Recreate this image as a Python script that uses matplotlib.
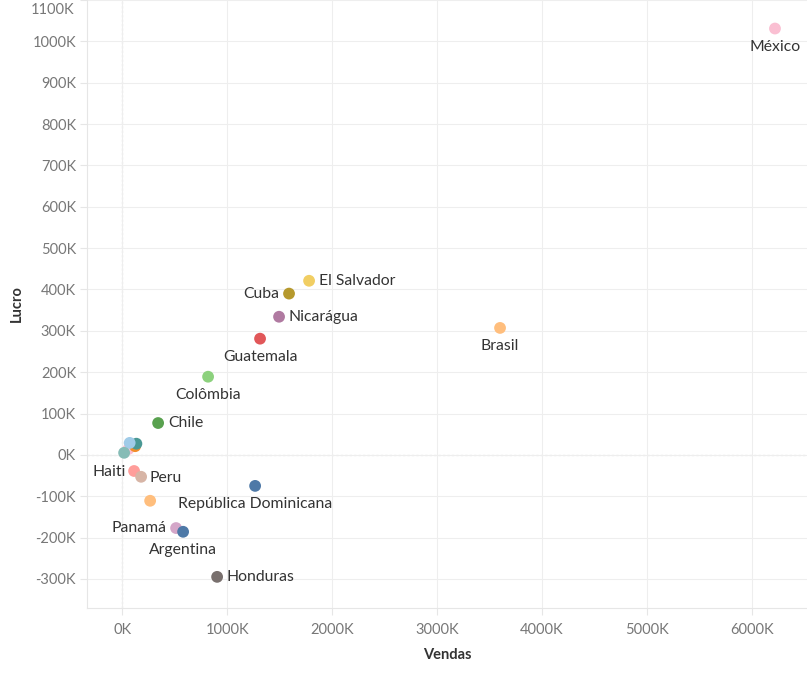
import matplotlib.pyplot as plt
from matplotlib.ticker import FuncFormatter, MultipleLocator

plt.rcParams['font.family'] = ['Lato', 'DejaVu Sans']

# values in thousands
paises = ['México', 'Brasil', 'El Salvador', 'Cuba', 'Nicarágua', 'Guatemala',
          'Colômbia', 'Chile', 'Haiti', 'Peru', 'República Dominicana', '',
          'Panamá', 'Argentina', 'Honduras', '', '', '', '', '']
vendas = [6219, 3600, 1781, 1590, 1495, 1314,
          819, 343, 114, 181, 1267, 267,
          514, 581, 905, 60, 124, 136, 72, 19]
lucro = [1031, 307, 421, 390, 334, 281,
         189, 77, -39, -53, -75, -111,
         -177, -186, -295, 14, 21, 27, 29, 5]
cores = ['#FABFD2', '#FFBE7D', '#F1CE63', '#B6992D', '#B07AA1', '#E15759',
         '#8CD17D', '#59A14F', '#FF9D9A', '#D7B5A6', '#4E79A7', '#FFBE7D',
         '#D4A6C8', '#4E79A7', '#79706E', '#FABFD2', '#F28E2B', '#499894',
         '#A0CBE8', '#86BCB6']
# label placement: r = right, l = left, b = below
posicao = ['b', 'b', 'r', 'l', 'r', 'b', 'b', 'r', 'lb', 'rb', 'b', '',
           'l', 'b', 'r', '', '', '', '', '']

fig = plt.figure(figsize=(8.07, 6.83), dpi=100)
ax = fig.add_axes([0.108, 0.110, 0.892, 0.890])

ax.scatter(vendas, lucro, s=72, c=cores, zorder=5, linewidths=0)

fs = 11.3
for nome, x, y, p in zip(paises, vendas, lucro, posicao):
    if not nome:
        continue
    if p == 'r':
        ax.annotate(nome, (x, y), xytext=(7, 0), textcoords='offset points',
                    ha='left', va='center', fontsize=fs, color='#333333')
    elif p == 'l':
        ax.annotate(nome, (x, y), xytext=(-7, 0), textcoords='offset points',
                    ha='right', va='center', fontsize=fs, color='#333333')
    elif p == 'lb':
        ax.annotate(nome, (x, y), xytext=(-6, -1), textcoords='offset points',
                    ha='right', va='center', fontsize=fs, color='#333333')
    elif p == 'rb':
        ax.annotate(nome, (x, y), xytext=(6, -1), textcoords='offset points',
                    ha='left', va='center', fontsize=fs, color='#333333')
    else:
        ax.annotate(nome, (x, y), xytext=(0, -8), textcoords='offset points',
                    ha='center', va='top', fontsize=fs, color='#333333')

ax.set_xlim(-333, 6524)
ax.set_ylim(-370, 1100)
ax.xaxis.set_major_locator(MultipleLocator(1000))
ax.yaxis.set_major_locator(MultipleLocator(100))
ax.xaxis.set_major_formatter(FuncFormatter(lambda v, _: '%dK' % v))
ax.yaxis.set_major_formatter(FuncFormatter(lambda v, _: '' if v >= 1100 else '%dK' % v))
# top tick label kept inside the figure
ax.annotate('1100K', (0, 1100), xycoords=('axes fraction', 'data'),
            xytext=(-9, -2), textcoords='offset points', ha='right', va='top',
            fontsize=10.5, color='#777777')

ax.grid(True, color='#eeeeee', linewidth=0.8, zorder=0)
ax.axhline(0, color='#aaaaaa', linewidth=0.8, linestyle=(0, (2, 2)), zorder=1)
ax.axvline(0, color='#aaaaaa', linewidth=0.8, linestyle=(0, (2, 2)), zorder=1)

for s in ['top', 'right']:
    ax.spines[s].set_visible(False)
for s in ['left', 'bottom']:
    ax.spines[s].set_color('#e6e6e6')
ax.tick_params(axis='both', colors='#e6e6e6', labelcolor='#777777',
               labelsize=10.5, length=5)
ax.tick_params(axis='y', pad=3)
ax.tick_params(axis='x', pad=6)

ax.set_xlabel('Vendas', fontsize=10.5, color='#333333', fontweight='bold', labelpad=8)
ax.set_ylabel('Lucro', fontsize=10.5, color='#333333', fontweight='bold', labelpad=6)

plt.savefig('out.png', dpi=100)
